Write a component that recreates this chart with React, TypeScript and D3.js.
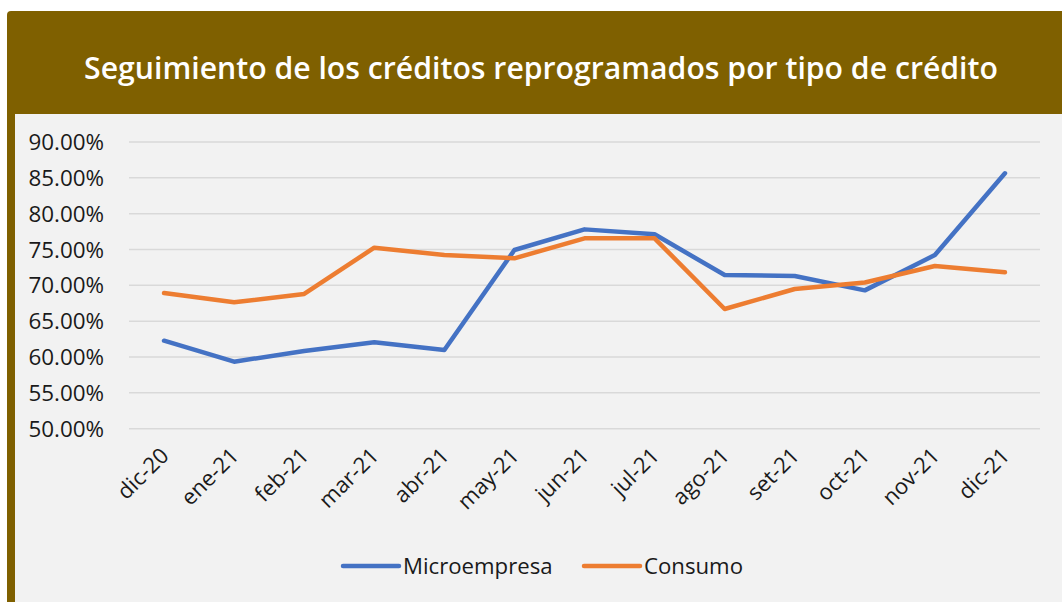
import React from "react";
import * as d3 from "d3";

const categories = ["dic-20","ene-21","feb-21","mar-21","abr-21","may-21","jun-21","jul-21","ago-21","set-21","oct-21","nov-21","dic-21"];
const microempresa = [62.28, 59.35, 60.84, 62.05, 60.98, 74.93, 77.81, 77.12, 71.44, 71.3, 69.3, 74.23, 85.63];
const consumo = [68.93, 67.63, 68.8, 75.26, 74.23, 73.77, 76.56, 76.56, 66.7, 69.49, 70.4, 72.7, 71.82];
const yTicks = [50, 55, 60, 65, 70, 75, 80, 85, 90];
const seriesNames = ["Microempresa", "Consumo"];
const colors = ["#4472C4", "#ED7D31"];
const title = "Seguimiento de los créditos reprogramados por tipo de crédito";

const W = 1062, H = 602;
const FONT = "'Open Sans', 'Noto Sans', sans-serif";

export default function App() {
  const x = d3.scaleBand<string>().domain(categories).range([129, 1040]);
  const y = d3.scaleLinear().domain([50, 90]).range([428.7, 142]);
  const line = d3.line<number>()
    .x((_, i) => (x(categories[i]) as number) + x.bandwidth() / 2)
    .y((d) => y(d));
  const series = [microempresa, consumo];

  return (
    <svg width={W} height={H} style={{ position: "absolute", left: 0, top: 0 }} fontFamily={FONT}>
      <rect x={0} y={0} width={W} height={H} fill="#ffffff" />
      <rect x={7} y={11} width={W + 20} height={H + 20} rx={4} fill="#7F6000" />
      <rect x={15} y={114} width={W} height={H} fill="#F2F2F2" />
      <text x={541} y={79} textAnchor="middle" fill="#ffffff" fontSize={30.2} fontWeight={600}>{title}</text>
      {yTicks.map((t) => (
        <g key={t}>
          <line x1={129} x2={1040} y1={y(t)} y2={y(t)} stroke="#D9D9D9" strokeWidth={1.5} />
          <text x={104} y={y(t)} dy="0.36em" textAnchor="end" fontSize={22.4} fill="#1a1a1a">{t.toFixed(2)}%</text>
        </g>
      ))}
      {categories.map((c) => {
        const cx = (x(c) as number) + x.bandwidth() / 2;
        return (
          <text key={c} transform={`translate(${cx + 6},${457}) rotate(-45)`} textAnchor="end" fontSize={22} fill="#1a1a1a">{c}</text>
        );
      })}
      {series.map((s, i) => (
        <path key={i} d={line(s) || ""} fill="none" stroke={colors[i]} strokeWidth={4.5} strokeLinejoin="round" strokeLinecap="round" />
      ))}
      {seriesNames.map((n, i) => {
        const lx = i === 0 ? 343 : 584;
        return (
          <g key={n}>
            <line x1={lx} x2={lx + 56} y1={566} y2={566} stroke={colors[i]} strokeWidth={4.5} strokeLinecap="round" />
            <text x={lx + 60} y={566} dy="0.36em" fontSize={22.2} fill="#1a1a1a">{n}</text>
          </g>
        );
      })}
    </svg>
  );
}
